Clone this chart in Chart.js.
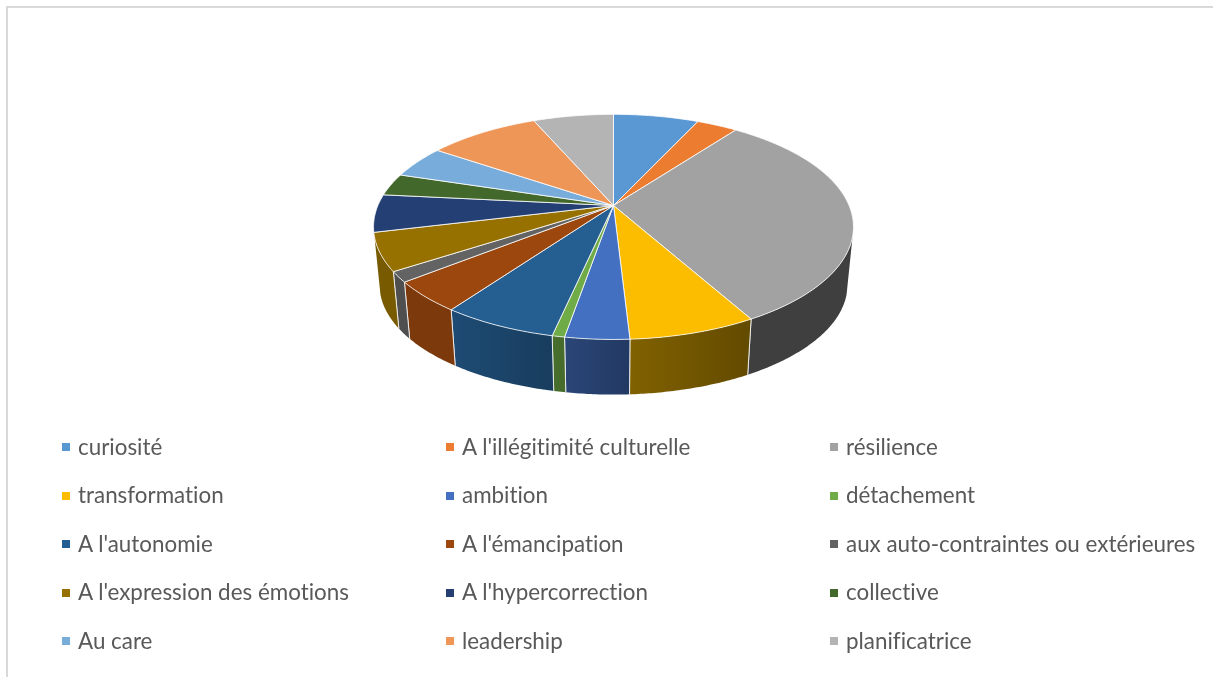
<!DOCTYPE html>
<html lang="fr">
<head>
<meta charset="utf-8">
<title>Camembert 3D</title>
<script src="https://cdn.jsdelivr.net/npm/chart.js@4"></script>
<style>
  html, body { margin: 0; padding: 0; background: #fff; overflow: hidden; }
  #wrap { position: relative; width: 1213px; height: 677px; }
  #frame { position: absolute; left: 6px; top: 6px; right: 0; bottom: 0;
           border-left: 2px solid #d9d9d9; border-top: 2px solid #d9d9d9; }
  canvas { position: absolute; left: 0; top: 0; }
  #legend { position: absolute; left: 62px; top: 423px; margin: 0; padding: 0; list-style: none;
            display: grid; grid-template-columns: repeat(3, 384px); grid-auto-rows: 48.5px;
            font: 22.4px Lato, sans-serif; font-variant-ligatures: none; color: #595959; }
  #legend li { display: flex; align-items: center; height: 48.5px; white-space: nowrap; }
  #legend i { width: 8px; height: 8px; margin-right: 8px; flex: none; }
  #legend span { position: relative; top: -1px; }
</style>
</head>
<body>
<div id="wrap">
  <div id="frame"></div>
  <canvas id="pie" width="1213" height="677"></canvas>
  <ul id="legend"></ul>
</div>
<script>
const categories = [
  'curiosité', "A l'illégitimité culturelle", 'résilience',
  'transformation', 'ambition', 'détachement',
  "A l'autonomie", "A l'émancipation", 'aux auto-contraintes ou extérieures',
  "A l'expression des émotions", "A l'hypercorrection", 'collective',
  'Au care', 'leadership', 'planificatrice'
];
const shares = [6.9, 3.3, 31.7, 7.2, 3.6, 0.7, 6.5, 4.4, 1.5, 5.4, 5.4, 3.2, 4.7, 9.0, 6.5];
const colors = [
  '#5a98d4', '#eb7c30', '#a2a2a2', '#fcbd00', '#4370c0', '#6fab46', '#255e91', '#9b470e',
  '#636363', '#967100', '#243f74', '#43682b', '#78acdb', '#ee9558', '#b4b4b4'
];

// perspective of the tilted disc
const squash = 0.4605;
const persp = 0.19;
const wallScale = 0.975;
const wallDrop = 58.5;
const wallStart = 0.27; // sin(angle) from which the side shows

function project(arc, angle, bottom) {
  const w = 1 - persp * Math.sin(angle);
  const dx = arc.outerRadius * Math.cos(angle) / w;
  const dy = arc.outerRadius * squash * Math.sin(angle) / w;
  if (bottom) return [arc.x + dx * wallScale, arc.y + dy * wallScale + wallDrop];
  return [arc.x + dx, arc.y + dy];
}

function sweep(arc) {
  const angles = [];
  const steps = Math.max(2, Math.ceil((arc.endAngle - arc.startAngle) / 0.01));
  for (let i = 0; i <= steps; i++) {
    angles.push(arc.startAngle + (arc.endAngle - arc.startAngle) * i / steps);
  }
  return angles;
}

function shade(hex, f) {
  const n = parseInt(hex.slice(1), 16);
  const c = [n >> 16, (n >> 8) & 255, n & 255].map(v => Math.round(v * f));
  return `rgb(${c.join(',')})`;
}

// the side gets darker going from left to right
function wallShade(arc, x) {
  const t = (x - arc.x) / arc.outerRadius;
  return Math.min(0.8, Math.max(0.39, 0.54 - t * 0.42));
}

function drawWall(ctx, arc) {
  const angles = sweep(arc).filter(a => Math.sin(a) > wallStart);
  if (angles.length < 2) return;
  const top = angles.map(a => project(arc, a, false));
  const low = angles.map(a => project(arc, a, true));
  const xs = top.map(p => p[0]);
  const x0 = Math.min(...xs);
  const x1 = Math.max(...xs);
  const grad = ctx.createLinearGradient(x0, 0, x1 + 0.01, 0);
  grad.addColorStop(0, shade(arc.options.backgroundColor, wallShade(arc, x0)));
  grad.addColorStop(1, shade(arc.options.backgroundColor, wallShade(arc, x1)));

  // one strip of quads, all wound the same way so the fill has no seams
  ctx.beginPath();
  for (let i = 0; i < top.length - 1; i++) {
    let quad = [top[i], top[i + 1], low[i + 1], low[i]];
    let area = 0;
    quad.forEach((p, j) => {
      const q = quad[(j + 1) % 4];
      area += p[0] * q[1] - q[0] * p[1];
    });
    if (area < 0) quad = quad.reverse();
    quad.forEach((p, j) => j ? ctx.lineTo(p[0], p[1]) : ctx.moveTo(p[0], p[1]));
    ctx.closePath();
  }
  ctx.fillStyle = grad;
  ctx.fill();

  // light line between neighbours
  ctx.beginPath();
  [0, top.length - 1].forEach(i => {
    if (Math.sin(angles[i]) > wallStart + 0.02) {
      ctx.moveTo(top[i][0], top[i][1]);
      ctx.lineTo(low[i][0], low[i][1]);
    }
  });
  ctx.strokeStyle = arc.options.borderColor;
  ctx.lineWidth = arc.options.borderWidth;
  ctx.stroke();
}

const tiltedPie = {
  id: 'tiltedPie',
  beforeDatasetsDraw(chart) {
    const ctx = chart.ctx;
    const arcs = chart.getDatasetMeta(0).data;
    ctx.save();
    ctx.lineJoin = 'round';

    // side wall first, the top face covers what is behind
    arcs.forEach(arc => drawWall(ctx, arc));

    // top face
    arcs.forEach(arc => {
      ctx.beginPath();
      ctx.moveTo(arc.x, arc.y);
      sweep(arc).forEach(a => {
        const p = project(arc, a, false);
        ctx.lineTo(p[0], p[1]);
      });
      ctx.closePath();
      ctx.fillStyle = arc.options.backgroundColor;
      ctx.fill();
      ctx.strokeStyle = arc.options.borderColor;
      ctx.lineWidth = arc.options.borderWidth;
      ctx.stroke();
    });
    ctx.restore();
    return false;
  }
};

new Chart(document.getElementById('pie').getContext('2d'), {
  type: 'pie',
  data: {
    labels: categories,
    datasets: [{ data: shares, backgroundColor: colors, borderColor: 'rgba(255,255,255,0.8)', borderWidth: 1 }]
  },
  options: {
    responsive: false,
    animation: false,
    radius: 235.6,
    layout: { padding: { left: 14, bottom: 266 } },
    plugins: { legend: { display: false }, tooltip: { enabled: false } }
  },
  plugins: [tiltedPie]
});

// legend in three columns like the original
const legend = document.getElementById('legend');
categories.forEach((name, i) => {
  const li = document.createElement('li');
  const box = document.createElement('i');
  const text = document.createElement('span');
  box.style.background = colors[i];
  text.textContent = name;
  li.appendChild(box);
  li.appendChild(text);
  legend.appendChild(li);
});
</script>
</body>
</html>
